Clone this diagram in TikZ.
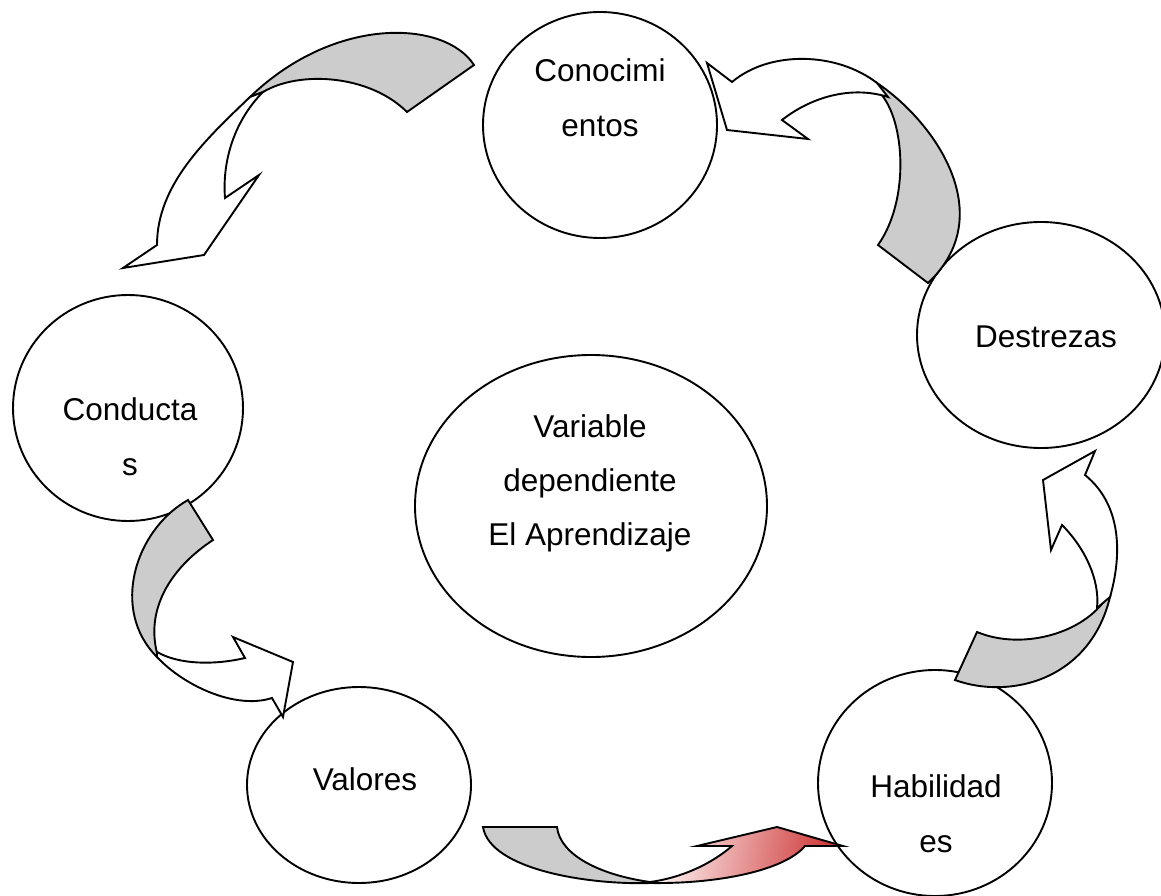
\documentclass[tikz,border=0pt]{standalone}
\usepackage{fontspec}
\setmainfont{Liberation Sans}
\usetikzlibrary{shapes.geometric}
\definecolor{backgray}{RGB}{204,204,204}
\definecolor{arrowred}{RGB}{192,0,0}
\begin{document}
\begin{tikzpicture}[x=1pt,y=-1pt,
  ell/.style={ellipse, draw, fill=white, line width=1.9pt, inner sep=0pt},
  lbl/.style={font=\fontsize{31.5}{38}\selectfont, anchor=base, inner sep=0pt},
  backpart/.style={draw, fill=backgray, line width=1.9pt, line join=miter},
  frontpart/.style={draw, fill=white, line width=1.9pt, line join=miter},
  redpart/.style={draw, line width=1.9pt, line join=miter, shading=axis,
     left color=red!4, right color=arrowred!80, shading angle=80}]
\useasboundingbox (0,0) rectangle (1161,896);
% ellipses
\node[ell, minimum width=234pt, minimum height=226pt] (cono) at (600,125) {};
\node[ell, minimum width=248pt, minimum height=226pt] (dest) at (1041,335) {};
\node[ell, minimum width=230pt, minimum height=226pt] (cond) at (128,408) {};
\node[ell, minimum width=352pt, minimum height=302pt] (var) at (591,506) {};
\node[ell, minimum width=224pt, minimum height=196pt] (val) at (359,785) {};
\node[ell, minimum width=234pt, minimum height=226pt] (hab) at (935,783) {};
% labels
\node[lbl] (t1a) at (600,82) {Conocimi};
\node[lbl] (t1b) at (600,137) {entos};
\node[lbl] (t2) at (1046,347) {Destrezas};
\node[lbl] (t3a) at (130,420) {Conducta};
\node[lbl] (t3b) at (130,475) {s};
\node[lbl] (t4a) at (590,437) {Variable};
\node[lbl] (t4b) at (590,491) {dependiente};
\node[lbl] (t4c) at (590,545) {El Aprendizaje};
\node[lbl] (t5) at (365,790) {Valores};
\node[lbl] (t6a) at (936,797) {Habilidad};
\node[lbl] (t6b) at (936,852) {es};
% arrow 1: Conocimientos -> Conductas
\coordinate (a1x) at (250,97);
\draw[backpart] (474,65) .. controls (445,20) and (335,15) .. (a1x)
  -- (263,92) .. controls (300,70) and (370,75) .. (407,112) -- cycle;
\draw[frontpart] (a1x) .. controls (205,140) and (157,185) .. (157,245)
  -- (123,268) -- (204,255) -- (259,175) -- (225,198)
  .. controls (222,160) and (235,120) .. (263,92) -- cycle;
% arrow 2: Destrezas -> Conocimientos
\coordinate (a2x) at (877,83);
\draw[backpart] (a2x) .. controls (935,122) and (1000,215) .. (928,283)
  -- (878,245) .. controls (910,200) and (905,120) .. (880,93) -- cycle;
\draw[frontpart] (a2x) .. controls (837,52) and (770,50) .. (732,82)
  -- (707,63) -- (727,130) -- (808,139) -- (782,120)
  .. controls (810,98) and (850,85) .. (888,97) -- cycle;
% arrow 3: Habilidades -> Destrezas
\coordinate (a3x) at (1110,597);
\draw[backpart] (955,680) .. controls (1010,700) and (1090,680) .. (a3x)
  -- (1105,600) .. controls (1080,635) and (1020,650) .. (977,632) -- cycle;
\draw[frontpart] (a3x) .. controls (1122,555) and (1122,505) .. (1085,475)
  -- (1095,451) -- (1043,480) -- (1051,550) -- (1062,525)
  .. controls (1085,548) and (1100,580) .. (1097,608) -- cycle;
% arrow 4: Conductas -> Valores
\coordinate (a4x) at (157,657);
\draw[backpart] (188,500) .. controls (135,530) and (110,610) .. (a4x)
  -- (157,653) .. controls (145,605) and (175,565) .. (213,540) -- cycle;
\draw[frontpart] (a4x) .. controls (183,685) and (235,710) .. (272,698)
  -- (283,717) -- (293,662) -- (233,637) -- (245,658)
  .. controls (215,665) and (180,665) .. (157,652) -- cycle;
% arrow 5: Valores -> Habilidades
\coordinate (a5x) at (650,883);
\draw[backpart] (483,827) .. controls (490,870) and (590,885) .. (a5x)
  -- (650,882) .. controls (600,875) and (560,855) .. (557,827) -- cycle;
\draw[redpart] (a5x) .. controls (720,884) and (785,870) .. (805,846)
  -- (843,846) -- (777,827) -- (697,846) -- (732,846)
  .. controls (710,865) and (680,878) .. (650,882) -- cycle;
\end{tikzpicture}
\end{document}
